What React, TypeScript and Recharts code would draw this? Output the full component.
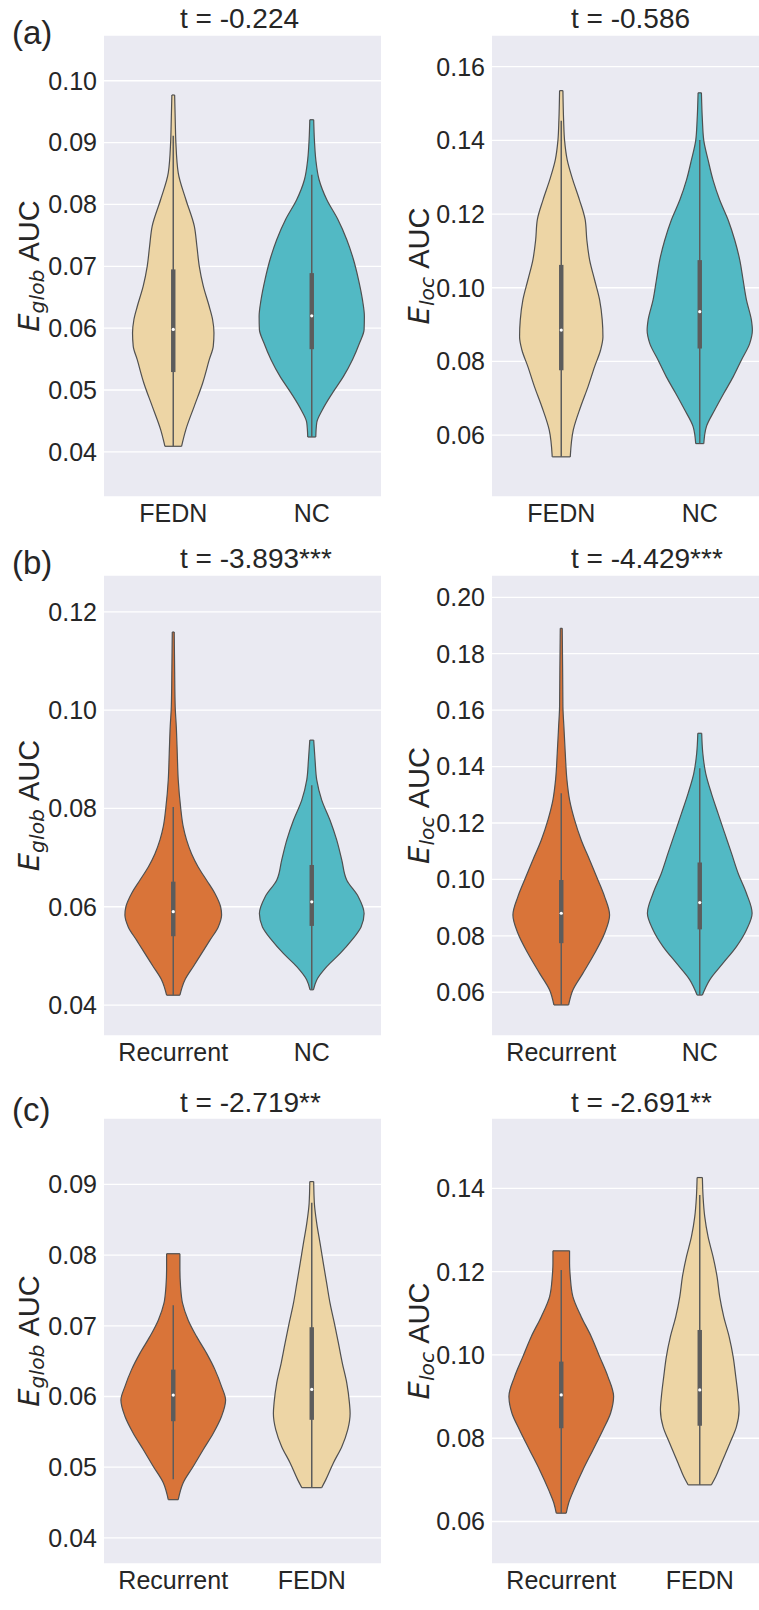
import { ComposedChart, Area, XAxis, YAxis, CartesianGrid, ReferenceArea, ReferenceLine, ReferenceDot } from 'recharts';

type Pt = [number, number];

// violin outlines: [value, half width in category units]
const aGlobFedn: Pt[] = [
  [0.0977, 0.010], [0.0930, 0.015], [0.0900, 0.019], [0.0851, 0.036], [0.0808, 0.091], [0.0765, 0.152],
  [0.0732, 0.171], [0.0700, 0.188], [0.0668, 0.217], [0.0635, 0.260], [0.0614, 0.284], [0.0592, 0.294],
  [0.0571, 0.289], [0.0549, 0.260], [0.0511, 0.212], [0.0474, 0.152], [0.0436, 0.091], [0.0409, 0.060],
];
const aGlobNc: Pt[] = [
  [0.0937, 0.014], [0.0905, 0.019], [0.0873, 0.029], [0.0840, 0.053], [0.0808, 0.108], [0.0776, 0.188],
  [0.0743, 0.253], [0.0711, 0.301], [0.0679, 0.337], [0.0646, 0.366], [0.0619, 0.380], [0.0598, 0.378],
  [0.0576, 0.345], [0.0549, 0.294], [0.0522, 0.229], [0.0495, 0.149], [0.0468, 0.077], [0.0447, 0.036],
  [0.0424, 0.029],
];
const aLocFedn: Pt[] = [
  [0.1535, 0.012], [0.1455, 0.017], [0.1400, 0.024], [0.1347, 0.043], [0.1292, 0.084], [0.1238, 0.132],
  [0.1184, 0.173], [0.1129, 0.185], [0.1075, 0.205], [0.1021, 0.241], [0.0967, 0.277], [0.0912, 0.296],
  [0.0867, 0.301], [0.0831, 0.284], [0.0786, 0.241], [0.0731, 0.193], [0.0677, 0.140], [0.0614, 0.087],
  [0.0541, 0.065],
];
const aLocNc: Pt[] = [
  [0.1529, 0.012], [0.1455, 0.019], [0.1400, 0.029], [0.1347, 0.060], [0.1292, 0.096], [0.1238, 0.144],
  [0.1184, 0.205], [0.1129, 0.253], [0.1075, 0.289], [0.1021, 0.313], [0.0967, 0.337], [0.0912, 0.373],
  [0.0885, 0.380], [0.0849, 0.361], [0.0804, 0.301], [0.0758, 0.241], [0.0713, 0.173], [0.0668, 0.108],
  [0.0623, 0.048], [0.0577, 0.029],
];
const bGlobRec: Pt[] = [
  [0.1159, 0.007], [0.1081, 0.010], [0.1007, 0.014], [0.0966, 0.022], [0.0912, 0.029], [0.0858, 0.036],
  [0.0803, 0.053], [0.0763, 0.072], [0.0736, 0.096], [0.0708, 0.132], [0.0681, 0.180], [0.0654, 0.241],
  [0.0627, 0.301], [0.0600, 0.342], [0.0583, 0.349], [0.0559, 0.325], [0.0532, 0.265], [0.0505, 0.205],
  [0.0478, 0.144], [0.0451, 0.084], [0.0420, 0.048],
];
const bGlobNc: Pt[] = [
  [0.0939, 0.014], [0.0898, 0.024], [0.0858, 0.036], [0.0817, 0.072], [0.0776, 0.132], [0.0736, 0.180],
  [0.0695, 0.217], [0.0654, 0.253], [0.0620, 0.337], [0.0586, 0.378], [0.0559, 0.356], [0.0532, 0.289],
  [0.0505, 0.205], [0.0478, 0.108], [0.0451, 0.036], [0.0431, 0.012],
];
const bLocRec: Pt[] = [
  [0.1890, 0.007], [0.1742, 0.010], [0.1612, 0.012], [0.1542, 0.019], [0.1447, 0.029], [0.1353, 0.041],
  [0.1282, 0.060], [0.1211, 0.096], [0.1140, 0.144], [0.1069, 0.205], [0.0998, 0.265], [0.0939, 0.313],
  [0.0874, 0.349], [0.0809, 0.313], [0.0738, 0.241], [0.0667, 0.156], [0.0608, 0.084], [0.0555, 0.053],
];
const bLocNc: Pt[] = [
  [0.1518, 0.014], [0.1447, 0.022], [0.1376, 0.043], [0.1305, 0.084], [0.1234, 0.132], [0.1164, 0.180],
  [0.1093, 0.229], [0.1022, 0.277], [0.0951, 0.337], [0.0880, 0.378], [0.0821, 0.337], [0.0762, 0.265],
  [0.0703, 0.168], [0.0644, 0.072], [0.0590, 0.019],
];
const cGlobRec: Pt[] = [
  [0.0802, 0.048], [0.0779, 0.048], [0.0755, 0.053], [0.0732, 0.067], [0.0708, 0.108], [0.0685, 0.168],
  [0.0661, 0.241], [0.0638, 0.301], [0.0614, 0.349], [0.0595, 0.378], [0.0572, 0.349], [0.0548, 0.289],
  [0.0525, 0.217], [0.0501, 0.144], [0.0478, 0.072], [0.0454, 0.036],
];
const cGlobFedn: Pt[] = [
  [0.0904, 0.014], [0.0873, 0.019], [0.0845, 0.036], [0.0817, 0.060], [0.0788, 0.084], [0.0760, 0.108],
  [0.0732, 0.132], [0.0703, 0.164], [0.0675, 0.193], [0.0647, 0.221], [0.0619, 0.253], [0.0591, 0.272],
  [0.0576, 0.277], [0.0553, 0.260], [0.0529, 0.217], [0.0506, 0.156], [0.0482, 0.101], [0.0471, 0.072],
];
const cLocRec: Pt[] = [
  [0.1250, 0.060], [0.1220, 0.060], [0.1188, 0.065], [0.1140, 0.084], [0.1092, 0.144], [0.1044, 0.217],
  [0.0996, 0.277], [0.0948, 0.337], [0.0900, 0.378], [0.0860, 0.356], [0.0820, 0.301], [0.0772, 0.229],
  [0.0724, 0.156], [0.0676, 0.091], [0.0644, 0.053], [0.0620, 0.036],
];
const cLocFedn: Pt[] = [
  [0.1426, 0.019], [0.1380, 0.024], [0.1332, 0.036], [0.1284, 0.060], [0.1236, 0.096], [0.1188, 0.125],
  [0.1140, 0.144], [0.1092, 0.173], [0.1044, 0.212], [0.0996, 0.241], [0.0948, 0.260], [0.0900, 0.277],
  [0.0868, 0.284], [0.0828, 0.265], [0.0788, 0.217], [0.0740, 0.156], [0.0708, 0.116], [0.0688, 0.084],
];

// inner boxes: [whisker low, q1, median, q3, whisker high]
const aGlobFednBox = [0.0409, 0.0529, 0.0598, 0.0695, 0.0911];
const aGlobNcBox = [0.0424, 0.0566, 0.0620, 0.0689, 0.0848];
const aLocFednBox = [0.0541, 0.0776, 0.0885, 0.1062, 0.1453];
const aLocNcBox = [0.0577, 0.0835, 0.0935, 0.1075, 0.1401];
const bGlobRecBox = [0.0420, 0.0540, 0.0590, 0.0651, 0.0803];
const bGlobNcBox = [0.0431, 0.0561, 0.0610, 0.0685, 0.0847];
const bLocRecBox = [0.0555, 0.0774, 0.0880, 0.0998, 0.1305];
const bLocNcBox = [0.0590, 0.0823, 0.0918, 0.1060, 0.1394];
const cGlobRecBox = [0.0483, 0.0565, 0.0602, 0.0638, 0.0729];
const cGlobFednBox = [0.0471, 0.0567, 0.0610, 0.0698, 0.0874];
const cLocRecBox = [0.0620, 0.0824, 0.0904, 0.0984, 0.1204];
const cLocFednBox = [0.0688, 0.0830, 0.0916, 0.1060, 0.1384];

const namesA = ['FEDN', 'NC'];
const namesB = ['Recurrent', 'NC'];
const namesC = ['Recurrent', 'FEDN'];

const titles = ['t = -0.224', 't = -0.586', 't = -3.893***', 't = -4.429***', 't = -2.719**', 't = -2.691**'];
const panelLetters = ['(a)', '(b)', '(c)'];

const ticksGlobA = [0.04, 0.05, 0.06, 0.07, 0.08, 0.09, 0.1];
const ticksLocA = [0.06, 0.08, 0.1, 0.12, 0.14, 0.16];
const ticksGlobB = [0.04, 0.06, 0.08, 0.1, 0.12];
const ticksLocB = [0.06, 0.08, 0.1, 0.12, 0.14, 0.16, 0.18, 0.2];
const ticksGlobC = [0.04, 0.05, 0.06, 0.07, 0.08, 0.09];
const ticksLocC = [0.06, 0.08, 0.1, 0.12, 0.14];

const FEDN = '#EDD5A5';
const NC = '#52B9C4';
const REC = '#D97439';
const FONT = '"Liberation Sans", Arial, sans-serif';
const MATH = '"DejaVu Sans", sans-serif';
const TEXT = '#262626';
const BOX = '#5c5c5c';
const EDGE = '#505050';

interface ViolinDef {
  shape: Pt[];
  box: number[];
  color: string;
}

interface PanelProps {
  left: number;
  top: number;
  width: number;
  axisWidth: number;
  plotHeight: number;
  domain: [number, number];
  ticks: number[];
  names: string[];
  violins: ViolinDef[];
}

const toBand = (shape: Pt[], c: number) => shape.map(([v, w]) => ({ v, band: [c - w, c + w] }));

function Panel({ left, top, width, axisWidth, plotHeight, domain, ticks, names, violins }: PanelProps) {
  return (
    <div style={{ position: 'absolute', left, top }}>
      <ComposedChart
        layout="vertical"
        width={width}
        height={plotHeight + 44}
        margin={{ top: 0, right: 0, bottom: 0, left: 0 }}
      >
        <CartesianGrid fill="#EAEAF2" stroke="#FFFFFF" strokeWidth={1.3} vertical={false} />
        <XAxis
          type="number"
          domain={[-0.5, 1.5]}
          ticks={[0, 1]}
          interval={0}
          allowDataOverflow
          tickFormatter={(i: number) => names[i] ?? ''}
          axisLine={false}
          tickLine={false}
          tickSize={0}
          tickMargin={7}
          height={44}
          tick={{ fontSize: 25, fill: TEXT, fontFamily: FONT }}
        />
        <YAxis
          type="number"
          dataKey="v"
          reversed
          domain={domain}
          ticks={ticks}
          interval={0}
          allowDataOverflow
          tickFormatter={(v: number) => v.toFixed(2)}
          axisLine={false}
          tickLine={false}
          tickSize={0}
          tickMargin={7}
          width={axisWidth}
          tick={{ fontSize: 25, fill: TEXT, fontFamily: FONT }}
        />
        {violins.map((vi, i) => (
          <Area
            key={`violin-${i}`}
            data={toBand(vi.shape, i)}
            dataKey="band"
            type="monotone"
            fill={vi.color}
            fillOpacity={1}
            stroke={EDGE}
            strokeWidth={1.2}
            dot={false}
            activeDot={false}
            isAnimationActive={false}
          />
        ))}
        {/* flat ends of the cut violins */}
        {violins.map((vi, i) =>
          [vi.shape[0], vi.shape[vi.shape.length - 1]].map(([v, w], k) => (
            <ReferenceLine
              key={`cap-${i}-${k}`}
              segment={[{ x: i - w, y: v }, { x: i + w, y: v }]}
              stroke={EDGE}
              strokeWidth={1.2}
            />
          ))
        )}
        {violins.map((vi, i) => (
          <ReferenceLine
            key={`whisker-${i}`}
            segment={[{ x: i, y: vi.box[0] }, { x: i, y: vi.box[4] }]}
            stroke={BOX}
            strokeWidth={1.5}
          />
        ))}
        {violins.map((vi, i) => (
          <ReferenceArea
            key={`box-${i}`}
            x1={i - 0.016}
            x2={i + 0.016}
            y1={vi.box[1]}
            y2={vi.box[3]}
            fill={BOX}
            fillOpacity={1}
            stroke="none"
          />
        ))}
        {violins.map((vi, i) => (
          <ReferenceDot key={`med-${i}`} x={i} y={vi.box[2]} r={1.6} fill="#FFFFFF" stroke="none" />
        ))}
      </ComposedChart>
    </div>
  );
}

function YLabel({ x, y, sub }: { x: number; y: number; sub: string }) {
  return (
    <text transform={`rotate(-90 ${x} ${y})`} x={x} y={y} textAnchor="middle" fontSize={29} fill={TEXT}>
      <tspan fontStyle="italic" fontFamily={MATH}>E</tspan>
      <tspan fontStyle="italic" fontFamily={MATH} fontSize={20.3} dy={5}>{sub}</tspan>
      <tspan dy={-5}>{'\u00a0AUC'}</tspan>
    </text>
  );
}

export default function App() {
  const rows = [
    { top: 35, h: 462 },
    { top: 575, h: 461 },
    { top: 1118, h: 446 },
  ];
  const titleBase = [28, 568, 1112];
  const letterBase = [44, 574, 1121];

  return (
    <div
      style={{
        position: 'absolute',
        left: 0,
        top: 0,
        width: 759,
        height: 1610,
        overflow: 'hidden',
        background: '#FFFFFF',
        fontFamily: FONT,
      }}
    >
      <Panel left={0} top={rows[0].top} width={381} axisWidth={104} plotHeight={rows[0].h}
        domain={[0.0327, 0.1074]} ticks={ticksGlobA} names={namesA}
        violins={[{ shape: aGlobFedn, box: aGlobFednBox, color: FEDN }, { shape: aGlobNc, box: aGlobNcBox, color: NC }]} />
      <Panel left={381} top={rows[0].top} width={388} axisWidth={111} plotHeight={rows[0].h}
        domain={[0.0432, 0.1686]} ticks={ticksLocA} names={namesA}
        violins={[{ shape: aLocFedn, box: aLocFednBox, color: FEDN }, { shape: aLocNc, box: aLocNcBox, color: NC }]} />
      <Panel left={0} top={rows[1].top} width={381} axisWidth={104} plotHeight={rows[1].h}
        domain={[0.0337, 0.1275]} ticks={ticksGlobB} names={namesB}
        violins={[{ shape: bGlobRec, box: bGlobRecBox, color: REC }, { shape: bGlobNc, box: bGlobNcBox, color: NC }]} />
      <Panel left={381} top={rows[1].top} width={388} axisWidth={111} plotHeight={rows[1].h}
        domain={[0.0445, 0.2079]} ticks={ticksLocB} names={namesB}
        violins={[{ shape: bLocRec, box: bLocRecBox, color: REC }, { shape: bLocNc, box: bLocNcBox, color: NC }]} />
      <Panel left={0} top={rows[2].top} width={381} axisWidth={104} plotHeight={rows[2].h}
        domain={[0.0363, 0.0994]} ticks={ticksGlobC} names={namesC}
        violins={[{ shape: cGlobRec, box: cGlobRecBox, color: REC }, { shape: cGlobFedn, box: cGlobFednBox, color: FEDN }]} />
      <Panel left={381} top={rows[2].top} width={388} axisWidth={111} plotHeight={rows[2].h}
        domain={[0.0498, 0.1569]} ticks={ticksLocC} names={namesC}
        violins={[{ shape: cLocRec, box: cLocRecBox, color: REC }, { shape: cLocFedn, box: cLocFednBox, color: FEDN }]} />

      <svg
        width={759}
        height={1610}
        style={{ position: 'absolute', left: 0, top: 0, pointerEvents: 'none', fontFamily: FONT }}
      >
        {panelLetters.map((l, i) => (
          <text key={l} x={12} y={letterBase[i]} fontSize={33} fill={TEXT}>{l}</text>
        ))}
        {titles.map((t, i) => (
          <text key={t} x={i % 2 === 0 ? 180 : 571} y={titleBase[Math.floor(i / 2)]} fontSize={28} fill={TEXT}>
            {t}
          </text>
        ))}
        {rows.map((r, i) => (
          <g key={`yl-${i}`}>
            <YLabel x={39} y={r.top + r.h / 2} sub="glob" />
            <YLabel x={429} y={r.top + r.h / 2} sub="loc" />
          </g>
        ))}
      </svg>
    </div>
  );
}
